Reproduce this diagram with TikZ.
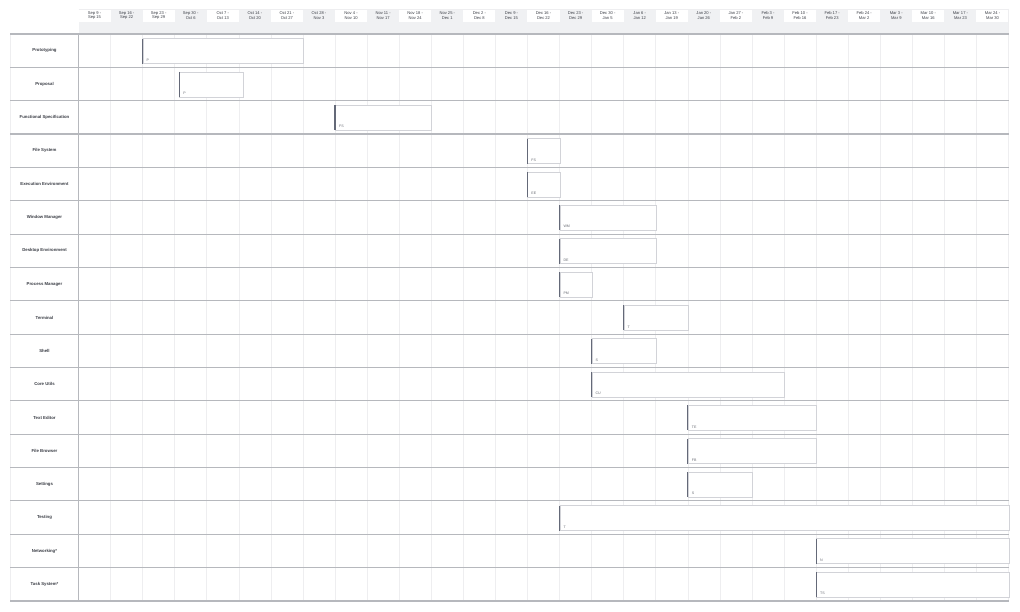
\documentclass[tikz,border=0pt]{standalone}
\usepackage{fontspec}
\setmainfont{Liberation Sans}
\definecolor{rowline}{HTML}{B6B8BD}
\definecolor{gridline}{HTML}{EEEEF0}
\definecolor{hdrshade}{HTML}{F0F1F3}
\definecolor{hdrband}{HTML}{F0F1F3}
\definecolor{barline}{HTML}{D2D3D8}
\definecolor{baredge}{HTML}{646978}
\definecolor{txt}{HTML}{3A3D45}
\definecolor{lbltxt}{HTML}{6B6E76}
\def\colw{32.07}
\def\xo{78.5}
\def\rowh{33.35}
\def\ytop{34}
\tikzset{
  rowlbl/.style={font=\fontsize{4.3}{5}\selectfont\bfseries, text=txt, inner sep=0pt},
  hdrlbl/.style={font=\fontsize{4.1}{4.6}\selectfont, text=txt, align=center, inner sep=0pt},
  ganttbar/.style={draw=barline, line width=0.8pt, fill=white, inner sep=0pt, anchor=north west, minimum height=25pt},
  baredgeline/.style={draw=baredge, line width=1.2pt},
  barlbl/.style={font=\fontsize{3.6}{4}\selectfont, text=lbltxt, inner sep=0pt, anchor=south west},
}
\newcommand\gbar[5]{%
  \pgfmathsetmacro\xs{\xo+#2*\colw/7}%
  \pgfmathsetmacro\xe{\xo+#3*\colw/7}%
  \pgfmathsetmacro\yt{\ytop+#1*\rowh+4.2}%
  \pgfmathsetmacro\bw{\xe-\xs}%
  \node[ganttbar, minimum width=\bw pt] (#5) at (\xs,\yt) {};
  \draw[baredgeline] ([yshift=-0.4pt]#5.north west) -- ([yshift=0.4pt]#5.south west);
  \node[barlbl] (#5l) at ([shift={(3.8,-2.6)}]#5.south west) {#4};
}
\begin{document}
\begin{tikzpicture}[x=1pt,y=-1pt]
\useasboundingbox (0,0) rectangle (1020,612);
\fill[white] (0,0) rectangle (1020,612);
% header cells
\foreach \a/\b [count=\i from 0] in {Sep 9 -/Sep 15,Sep 16 -/Sep 22,Sep 23 -/Sep 29,Sep 30 -/Oct 6,Oct 7 -/Oct 13,Oct 14 -/Oct 20,Oct 21 -/Oct 27,Oct 28 -/Nov 3,Nov 4 -/Nov 10,Nov 11 -/Nov 17,Nov 18 -/Nov 24,Nov 25 -/Dec 1,Dec 2 -/Dec 8,Dec 9 -/Dec 15,Dec 16 -/Dec 22,Dec 23 -/Dec 29,Dec 30 -/Jan 5,Jan 6 -/Jan 12,Jan 13 -/Jan 19,Jan 20 -/Jan 26,Jan 27 -/Feb 2,Feb 3 -/Feb 9,Feb 10 -/Feb 16,Feb 17 -/Feb 23,Feb 24 -/Mar 2,Mar 3 -/Mar 9,Mar 10 -/Mar 16,Mar 17 -/Mar 23,Mar 24 -/Mar 30}{
  \pgfmathsetmacro\cx{\xo+\i*\colw}
  \pgfmathsetmacro\cm{\xo+(\i+0.5)*\colw}
  \pgfmathtruncatemacro\odd{mod(\i,2)}
  \ifnum\odd=1
    \fill[hdrshade] (\cx,9) rectangle ++(\colw,13.5);
  \fi
  \node[hdrlbl] (h\i) at (\cm,15.4) {\a\\\b};
}
\draw[gridline, line width=0.8pt] (\xo,9) -- ({\xo+29*\colw},9);
\fill[hdrband] (\xo,22.5) rectangle ({\xo+29*\colw},\ytop);
% vertical grid
\foreach \i in {1,...,28}{
  \draw[gridline, line width=0.6pt] ({\xo+\i*\colw},\ytop) -- ({\xo+\i*\colw},601);
}
\draw[gridline, line width=0.8pt] ({\xo+29*\colw},9) -- ({\xo+29*\colw},601);
\draw[gridline, line width=0.8pt] (10,\ytop) -- (10,601);
% row separators
\foreach \i in {0,...,17}{
  \draw[rowline, line width=1.1pt] (10,{\ytop+\i*\rowh}) -- ({\xo+29*\colw},{\ytop+\i*\rowh});
}
\draw[rowline, line width=0.9pt] (\xo,\ytop) -- (\xo,601);
% row labels
\foreach \t [count=\i from 0] in {Prototyping,Proposal,Functional Specification,File System,Execution Environment,Window Manager,Desktop Environment,Process Manager,Terminal,Shell,Core Utils,Text Editor,File Browser,Settings,Testing,Networking*,Task System*}{
  \node[rowlbl] (r\i) at (44.5,{\ytop+(\i+0.5)*\rowh}) {\t};
}
% bars
\gbar{0}{14}{49}{P}{b0}
\gbar{1}{22}{36}{P}{b1}
\gbar{2}{56}{77}{FS}{b2}
\gbar{3}{98}{105}{FS}{b3}
\gbar{4}{98}{105}{EE}{b4}
\gbar{5}{105}{126}{WM}{b5}
\gbar{6}{105}{126}{DE}{b6}
\gbar{7}{105}{112}{PM}{b7}
\gbar{8}{119}{133}{T}{b8}
\gbar{9}{112}{126}{S}{b9}
\gbar{10}{112}{154}{CU}{b10}
\gbar{11}{133}{161}{TE}{b11}
\gbar{12}{133}{161}{FB}{b12}
\gbar{13}{133}{147}{S}{b13}
\gbar{14}{105}{203}{T}{b14}
\gbar{15}{161}{203}{N}{b15}
\gbar{16}{161}{203}{TS}{b16}
\end{tikzpicture}
\end{document}
